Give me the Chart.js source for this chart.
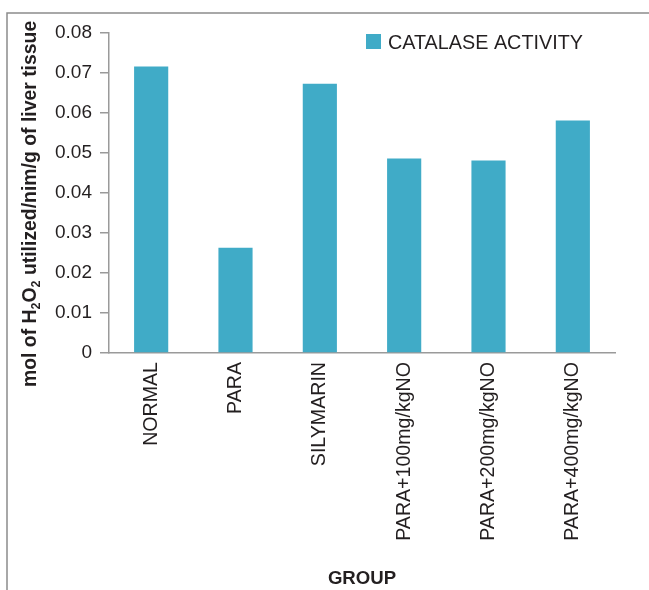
<!DOCTYPE html>
<html>
<head>
<meta charset="utf-8">
<script src="https://cdn.jsdelivr.net/npm/chart.js@4/dist/chart.umd.min.js"></script>
<style>
  html, body { margin: 0; padding: 0; background: #fff; }
  #wrap { width: 649px; height: 590px; }
</style>
</head>
<body>
<div id="wrap"><canvas id="c" width="649" height="590"></canvas></div>
<script>
// Catalase activity per treatment group
const groups = ['NORMAL', 'PARA', 'SILYMARIN', 'PARA+100mg/kgNO', 'PARA+200mg/kgNO', 'PARA+400mg/kgNO'];
const catalase = [0.0716, 0.0263, 0.0673, 0.0486, 0.0481, 0.0581];
const seriesName = 'CATALASE ACTIVITY';
const xTitle = 'GROUP';
// y-axis title pieces: [text, isSubscript]
const yTitleParts = [['mol of H', false], ['2', true], ['O', false], ['2', true], [' utilized/nim/g of liver tissue', false]];

const FONT = '"Liberation Sans", Arial, Helvetica, sans-serif';
const TEXT = '#231f20';
const AXIS = '#9a9a9a';
const BAR = '#40abc7';

const decorations = {
  id: 'decorations',
  beforeDraw(chart) {
    const ctx = chart.ctx;
    ctx.save();
    ctx.strokeStyle = '#8c8c8c';
    ctx.lineWidth = 1.5;
    ctx.beginPath();
    ctx.moveTo(7, 590);
    ctx.lineTo(7, 13);
    ctx.lineTo(649, 13);
    ctx.stroke();
    ctx.restore();
  },
  afterDraw(chart) {
    const ctx = chart.ctx;
    const xs = chart.scales.x;
    const area = chart.chartArea;
    ctx.save();
    ctx.fillStyle = TEXT;

    // category labels, reading bottom to top
    ctx.font = '19.6px ' + FONT;
    ctx.textAlign = 'right';
    ctx.textBaseline = 'middle';
    groups.forEach((g, i) => {
      const x = xs.getPixelForTick(i);
      ctx.save();
      ctx.translate(x, area.bottom + 9);
      ctx.rotate(-Math.PI / 2);
      ctx.fillText(g, 0, 0);
      ctx.restore();
    });

    // x-axis title
    ctx.font = 'bold 18.6px ' + FONT;
    ctx.textAlign = 'center';
    ctx.textBaseline = 'alphabetic';
    ctx.fillText(xTitle, (area.left + area.right) / 2, 584);

    // y-axis title with subscripts
    ctx.save();
    ctx.translate(36, 387);
    ctx.rotate(-Math.PI / 2);
    ctx.textAlign = 'left';
    let pos = 0;
    yTitleParts.forEach(([t, sub]) => {
      ctx.font = (sub ? 'bold 12.5px ' : 'bold 19.4px ') + FONT;
      ctx.fillText(t, pos, sub ? 4 : 0);
      pos += ctx.measureText(t).width;
    });
    ctx.restore();

    // legend
    const ds = chart.data.datasets[0];
    ctx.fillStyle = ds.backgroundColor;
    ctx.fillRect(366, 34, 15, 15);
    ctx.fillStyle = TEXT;
    ctx.font = '19.8px ' + FONT;
    ctx.textAlign = 'left';
    ctx.fillText(ds.label, 388, 49);
    ctx.restore();
  }
};

new Chart(document.getElementById('c'), {
  type: 'bar',
  data: {
    labels: groups,
    datasets: [{
      label: seriesName,
      data: catalase,
      backgroundColor: BAR,
      borderWidth: 0,
      barPercentage: 0.405,
      categoryPercentage: 1.0
    }]
  },
  options: {
    responsive: false,
    animation: false,
    layout: { padding: { left: 0, right: 34, top: 33, bottom: 0 } },
    plugins: { legend: { display: false }, tooltip: { enabled: false } },
    scales: {
      x: {
        grid: { display: false },
        border: { display: true, color: AXIS, width: 1.5 },
        ticks: { display: false },
        afterFit(scale) { scale.height = 237; }
      },
      y: {
        min: 0,
        max: 0.08,
        grid: { drawOnChartArea: false, drawTicks: true, tickLength: 9, color: AXIS, lineWidth: 1.5 },
        border: { display: true, color: AXIS, width: 1.5 },
        ticks: {
          stepSize: 0.01,
          padding: 8,
          color: TEXT,
          font: { family: FONT, size: 19 },
          callback: v => String(+v.toFixed(2))
        },
        afterFit(scale) { scale.width = 109; }
      }
    }
  },
  plugins: [decorations]
});
</script>
</body>
</html>
